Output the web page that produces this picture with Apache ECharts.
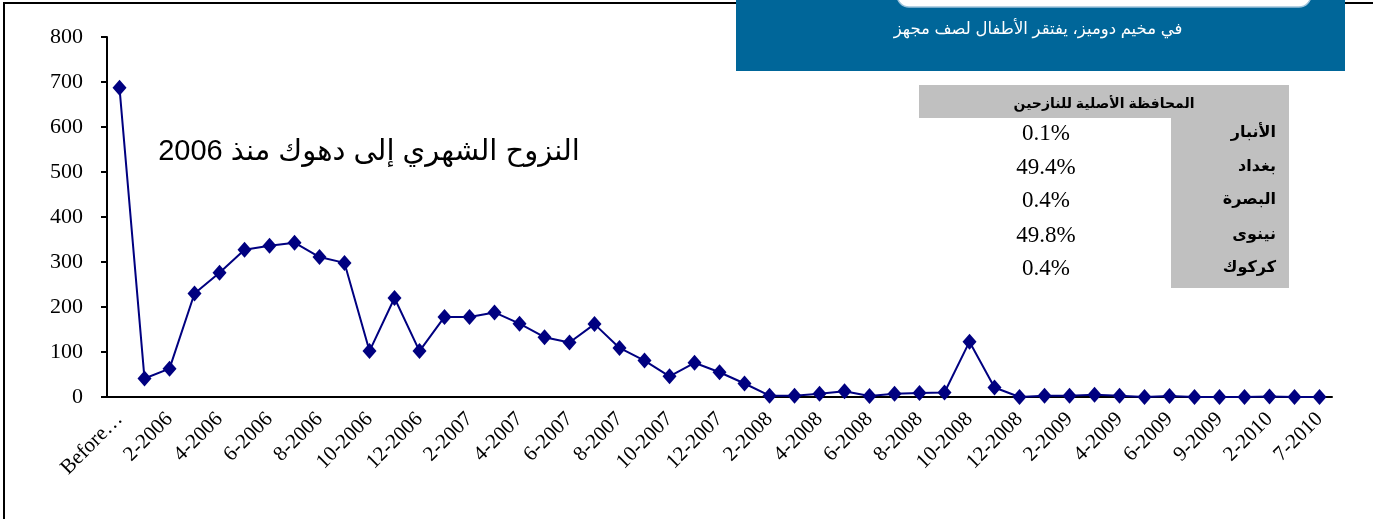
<!DOCTYPE html>
<html>
<head>
<meta charset="utf-8">
<title>النزوح الشهري إلى دهوك</title>
<script src="https://cdn.jsdelivr.net/npm/echarts@6/dist/echarts.min.js"></script>
<style>
	html, body { margin: 0; padding: 0; background: #fff; }
	#main { width: 1373px; height: 519px; }
</style>
</head>
<body>
<div id="main"></div>
<script>
	// 月份类别
	let categories = ['Before…',
		'1-2006', '2-2006', '3-2006', '4-2006', '5-2006', '6-2006', '7-2006', '8-2006', '9-2006', '10-2006', '11-2006', '12-2006',
		'1-2007', '2-2007', '3-2007', '4-2007', '5-2007', '6-2007', '7-2007', '8-2007', '9-2007', '10-2007', '11-2007', '12-2007',
		'1-2008', '2-2008', '3-2008', '4-2008', '5-2008', '6-2008', '7-2008', '8-2008', '9-2008', '10-2008', '11-2008', '12-2008',
		'1-2009', '2-2009', '3-2009', '4-2009', '5-2009', '6-2009', '7-2009', '9-2009', '11-2009', '2-2010', '4-2010', '7-2010'];
	// 每月人数
	let values = [687,
		41, 63, 230, 276, 327, 336, 343, 311, 298, 102, 220, 102,
		178, 178, 188, 163, 133, 121, 162, 109, 81, 46, 76, 55,
		30, 3, 3, 7, 13, 2, 7, 9, 10, 123, 21, 0,
		3, 3, 5, 3, 0, 2, 0, 0, 0, 1, 0, 0];
	// 纵轴刻度
	let yTicks = [0, 100, 200, 300, 400, 500, 600, 700, 800];
	// 侧表
	let provinces = ['الأنبار', 'بغداد', 'البصرة', 'نينوى', 'كركوك'];
	let shares = ['0.1%', '49.4%', '0.4%', '49.8%', '0.4%'];
	let tableTitle = 'المحافظة الأصلية للنازحين';
	let chartTitle = 'النزوح الشهري إلى دهوك منذ 2006';
	let bannerText = 'في مخيم دوميز، يفتقر الأطفال لصف مجهز';

	let serif = "'Liberation Serif', 'DejaVu Serif', serif";
	let sans = "'Liberation Sans', 'DejaVu Sans', sans-serif";

	// 表格图形
	function tableGraphics() {
		let rowY = [133, 167, 200, 235, 268];
		let arr = [
			{ type: 'rect', shape: { x: 919, y: 85, width: 370, height: 33 }, style: { fill: '#c0c0c0' } },
			{ type: 'rect', shape: { x: 1171, y: 118, width: 118, height: 170 }, style: { fill: '#c0c0c0' } },
			{ type: 'text', x: 1104, y: 104, style: { text: tableTitle, font: 'bold 14px ' + sans, fill: '#000', align: 'center', verticalAlign: 'middle' } }
		];
		provinces.forEach((p, i) => {
			arr.push({ type: 'text', x: 1276, y: rowY[i], style: { text: p, font: 'bold 16px ' + sans, fill: '#000', align: 'right', verticalAlign: 'middle' } });
			arr.push({ type: 'text', x: 1046, y: rowY[i] + 1, style: { text: shares[i], font: '23px ' + serif, fill: '#000', align: 'center', verticalAlign: 'middle' } });
		});
		return arr;
	}

	let main = document.getElementById('main');
	let myChart = echarts.init(main);
	let option = {
		animation: false,
		backgroundColor: '#fff',
		grid: { left: 107, top: 37, width: 1225, height: 360, containLabel: false },
		xAxis: {
			type: 'category',
			data: categories,
			boundaryGap: true,
			axisLine: { lineStyle: { color: '#000', width: 2 } },
			axisTick: { interval: 0, length: 6, lineStyle: { color: '#000', width: 2 } },
			axisLabel: {
				interval: 1,
				rotate: 45,
				margin: 19,
				color: '#000',
				fontFamily: serif,
				fontSize: 21
			},
			splitLine: { show: false }
		},
		yAxis: {
			type: 'value',
			min: yTicks[0],
			max: yTicks[yTicks.length - 1],
			interval: 100,
			axisLine: { show: true, lineStyle: { color: '#000', width: 2 } },
			axisTick: { show: true, length: 6, lineStyle: { color: '#000', width: 2 } },
			axisLabel: { color: '#000', fontFamily: serif, fontSize: 22, margin: 24 },
			splitLine: { show: false }
		},
		series: [{
			type: 'line',
			data: values,
			symbol: 'diamond',
			symbolSize: [14, 16],
			lineStyle: { color: '#000080', width: 2 },
			itemStyle: { color: '#000080' },
			z: 3
		}],
		graphic: [
			// 外框
			{ type: 'polyline', shape: { points: [[4, 519], [4, 3], [736, 3]] }, style: { stroke: '#000', lineWidth: 2, fill: null } },
			{ type: 'line', shape: { x1: 1345, y1: 3, x2: 1373, y2: 3 }, style: { stroke: '#000', lineWidth: 2 } },
			// 蓝色横幅
			{ type: 'rect', shape: { x: 736, y: 0, width: 609, height: 71 }, style: { fill: '#006699' } },
			{ type: 'rect', shape: { x: 897, y: -20, width: 414, height: 27, r: 12 }, style: { fill: '#fff', stroke: '#9ec4dc', lineWidth: 1.5 } },
			{ type: 'text', x: 1038, y: 29, style: { text: bannerText, font: '16.5px ' + sans, fill: '#fff', align: 'center', verticalAlign: 'middle' } },
			// 图表标题
			{ type: 'text', x: 369, y: 152, style: { text: chartTitle, font: '29px ' + sans, fill: '#000', align: 'center', verticalAlign: 'middle' } }
		].concat(tableGraphics())
	};
	myChart.setOption(option);
</script>
</body>
</html>
